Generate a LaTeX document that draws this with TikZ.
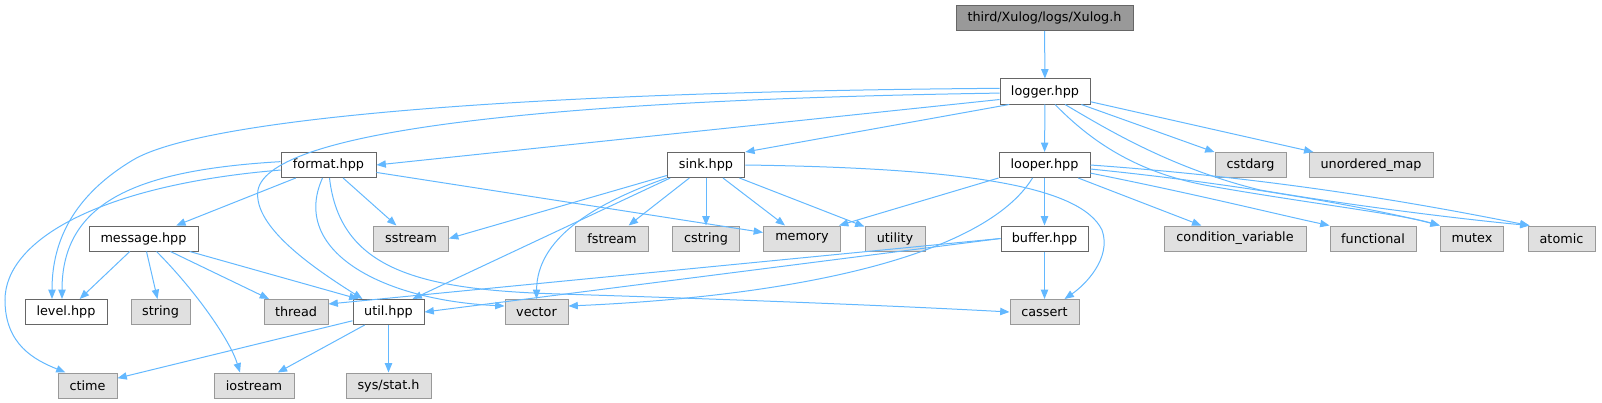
\documentclass[tikz,border=0pt]{standalone}
\usepackage{fontspec}
\setmainfont{DejaVu Sans}
\usepackage{tikz}
\usetikzlibrary{arrows.meta,calc}
\definecolor{edgeblue}{HTML}{63B8FF}
\definecolor{projline}{HTML}{666666}
\definecolor{sysline}{HTML}{999999}
\definecolor{sysfill}{HTML}{E0E0E0}
\definecolor{topfill}{HTML}{999999}

\begin{document}
\begin{tikzpicture}[x=0.75pt,y=-0.75pt,>={Triangle[length=7pt,width=5.5pt]},
  font=\fontsize{9.6}{11}\selectfont,
  hdr/.style={draw=projline,fill=white,line width=0.75pt,minimum height=18.75pt,inner sep=0pt,minimum width=#1*0.75pt},
  syshdr/.style={draw=sysline,fill=sysfill,line width=0.75pt,minimum height=18.75pt,inner sep=0pt,minimum width=#1*0.75pt},
  tophdr/.style={draw=projline,fill=topfill,line width=0.75pt,minimum height=18.75pt,inner sep=0pt,minimum width=#1*0.75pt},
  dep/.style={draw=edgeblue,line width=0.75pt,->}]
 \useasboundingbox (0,0) rectangle (1602,403);
 % rows of the include graph
 \node[tophdr=177] (xulog) at (1044.5,18) {third/Xulog/logs/Xulog.h};
 \node[hdr=90] (logger) at (1045,91.5) {logger.hpp};
 \node[hdr=95] (format) at (328.5,165) {format.hpp};
 \node[hdr=77.5] (sink) at (706,165) {sink.hpp};
 \node[hdr=91] (looper) at (1044.5,165) {looper.hpp};
 \node[syshdr=71] (cstdarg) at (1250.5,165) {cstdarg};
 \node[syshdr=124] (umap) at (1371,165) {unordered\_map};
 \node[hdr=109] (message) at (143.5,238.5) {message.hpp};
 \node[syshdr=75] (sstream) at (411,238.5) {sstream};
 \node[syshdr=73.5] (fstream) at (612,238.5) {fstream};
 \node[syshdr=66.5] (cstring) at (706,238.5) {cstring};
 \node[syshdr=77] (memory) at (802,238.5) {memory};
 \node[syshdr=60] (utility) at (895,238.5) {utility};
 \node[hdr=87] (buffer) at (1044.5,238.5) {buffer.hpp};
 \node[syshdr=142] (condvar) at (1235,238.5) {condition\_variable};
 \node[syshdr=86] (functional) at (1373,238.5) {functional};
 \node[syshdr=63.5] (mutex) at (1472,238.5) {mutex};
 \node[syshdr=67] (atomic) at (1561.5,238.5) {atomic};
 \node[hdr=82] (level) at (66,312) {level.hpp};
 \node[syshdr=59] (string) at (160.5,312) {string};
 \node[syshdr=64] (thread) at (296,312) {thread};
 \node[hdr=71] (util) at (388.5,312) {util.hpp};
 \node[syshdr=63] (vector) at (536.5,312) {vector};
 \node[syshdr=69] (cassert) at (1044.5,312) {cassert};
 \node[syshdr=59] (ctime) at (87.5,385.5) {ctime};
 \node[syshdr=80] (iostream) at (254,385.5) {iostream};
 \node[syshdr=85] (sysstat) at (388.5,385.5) {sys/stat.h};

 % Xulog.h and logger.hpp
 \draw[dep] (xulog) -- (logger);
 \draw[dep] (logger.176) .. controls (500,92) and (200,120) .. (133,160) .. controls (66,200) and (52,250) .. ($(level.north)+(-14,0)$);
 \draw[dep] (logger.182) .. controls (550,100) and (270,130) .. (258,190) .. controls (252,228) and (320,272) .. ($(util.north)+(-26,0)$);
 \draw[dep] (logger.190) -- (format.east);
 \draw[dep] (logger.200) -- (sink.north east);
 \draw[dep] (logger) -- (looper);
 \draw[dep] (logger) -- (cstdarg);
 \draw[dep] (logger) -- (umap);
 \draw[dep] ($(logger.south)+(10,0)$) .. controls (1085,135) and (1130,172) .. (1210,186) .. controls (1300,202) and (1400,214) .. (mutex.north west);
 \draw[dep] ($(logger.south)+(20,0)$) .. controls (1105,128) and (1170,168) .. (1260,190) .. controls (1360,207) and (1470,220) .. ($(atomic.north west)+(2,0)$);
 % format.hpp
 \draw[dep] (format) -- (message);
 \draw[dep] (format.176) .. controls (140,170) and (62,200) .. ($(level.north)+(-4,0)$);
 \draw[dep] (format.186) .. controls (100,185) and (5,240) .. (5,300) .. controls (5,345) and (35,360) .. ($(ctime.north)+(-22,0)$);
 \draw[dep] (format) -- (sstream);
 \draw[dep] (format) -- (memory);
 \draw[dep] ($(format.south)+(-6,0)$) .. controls (290,250) and (380,300) .. ($(vector.west)+(0,-6)$);
 \draw[dep] ($(format.south)+(1,0)$) .. controls (340,270) and (420,290) .. (560,294) .. controls (750,300) and (900,306) .. (cassert.west);
 % message.hpp
 \draw[dep] (message) -- (level);
 \draw[dep] (message) -- (string);
 \draw[dep] (message) -- (thread);
 \draw[dep] ($(message.south)+(13,0)$) .. controls (195,290) and (230,340) .. ($(iostream.north)+(-14,0)$);
 \draw[dep] (message) -- ($(util.north)+(-30,0)$);
 % sink.hpp
 \draw[dep] (sink) -- (fstream);
 \draw[dep] (sink) -- (cstring);
 \draw[dep] (sink) -- (memory);
 \draw[dep] (sink) -- (utility);
 \draw[dep] (sink.195) -- (sstream.east);
 \draw[dep] (sink.200) -- ($(util.north)+(24,0)$);
 \draw[dep] (sink.south west) .. controls (590,205) and (537,240) .. (vector.north);
 \draw[dep] (sink.east) .. controls (960,168) and (1080,185) .. (1102,230) .. controls (1112,258) and (1085,285) .. ($(cassert.north)+(20,0)$);
 % looper.hpp
 \draw[dep] (looper) -- (buffer);
 \draw[dep] (looper.south west) -- ($(memory.north east)+(-2,0)$);
 \draw[dep] ($(looper.south)+(-12,0)$) .. controls (985,255) and (800,296) .. ($(vector.east)+(0,-6)$);
 \draw[dep] (looper) -- (condvar);
 \draw[dep] (looper.-10) .. controls (1200,195) and (1280,215) .. (functional.north west);
 \draw[dep] (looper.-5) .. controls (1250,185) and (1380,210) .. (mutex.north west);
 \draw[dep] (looper.0) .. controls (1300,180) and (1450,210) .. ($(atomic.north west)+(2,0)$);
 % buffer.hpp
 \draw[dep] (buffer) -- (cassert);
 \draw[dep] (buffer.west) -- ($(thread.east)+(0,-8)$);
 \draw[dep] (buffer.west) -- (util.east);
 % util.hpp
 \draw[dep] (util) -- (ctime);
 \draw[dep] (util) -- (iostream);
 \draw[dep] (util) -- (sysstat);
\end{tikzpicture}
\end{document}
